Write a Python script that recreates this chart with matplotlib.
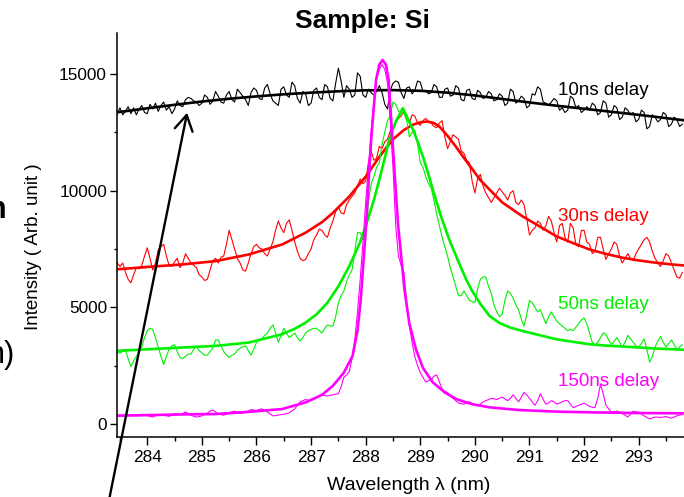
import numpy as np
import matplotlib
matplotlib.use("Agg")
import matplotlib.pyplot as plt
from matplotlib.patches import FancyArrowPatch, ArrowStyle
from matplotlib.ticker import MultipleLocator

plt.rcParams['font.family'] = ['Liberation Sans', 'DejaVu Sans']

# ---------------- data ----------------
# sampling grid of the measured spectra (nm), 283.40 ... 293.80 every 0.05 nm
wavelength = np.round(np.arange(283.40, 293.81, 0.05), 2)

raw_10ns = [
    13000, 13300, 13550, 13250, 13400, 13600, 13300, 13550, 13250, 13500, 13650, 13350,
    13300, 13700, 13500, 13750, 13400, 13650, 13800, 13450, 13600, 13300, 13500, 13850, 13650, 13600, 13900, 14000, 13950, 13850, 13800, 13650,
    13750, 14100, 14000, 13700, 13850, 14250, 14050, 13800, 13750, 14100, 14250, 13900, 13800, 14350, 14200, 14050, 13900, 13650, 14200, 14400,
    14300, 13950, 13900, 14400, 14550, 14150, 13850, 13750, 13650, 14350, 14450, 14100, 14000, 14650, 14500, 13950, 13750, 14250, 14150, 13650,
    13750, 14300, 14400, 14000, 13900, 14550, 14450, 13950, 13850, 14600, 15250, 14700, 14000, 14500, 14350, 14000, 14100, 15050, 14900, 14100,
    14000, 14350, 14200, 14100, 14250, 14500, 14200, 13700, 13500, 14300, 14600, 14700, 14650, 14200, 13950, 14400, 14450, 14150, 14300, 14700,
    14650, 14250, 14300, 14150, 14200, 14550, 14450, 14000, 14000, 14350, 14400, 14050, 14100, 14500, 14400, 13900, 13850, 14300, 14350, 13950,
    13900, 14300, 14200, 13950, 14000, 14250, 14150, 13850, 13900, 14150, 14050, 13650, 13750, 14350, 14250, 13750, 13850, 14050, 13950, 13550,
    13650, 14150, 14100, 14450, 14350, 13800, 13750, 13650, 13800, 13950, 13850, 13450, 13550, 13350, 13450, 14050, 13950, 13550, 13650, 13350,
    13450, 13600, 13450, 13750, 13650, 13250, 13350, 13850, 13750, 13150, 13250, 13650, 13550, 13050, 13150, 13550, 13450, 13250, 13350, 12950,
    13050, 13450, 13350, 12650, 12750, 13250, 13150, 12950, 13050, 13350, 13250, 12750, 12850, 13150, 13050, 12750, 12850]

raw_30ns = [
    7100, 6900, 6750, 6900, 6500, 6200, 6050, 6400, 6700, 6650, 6800, 7200,
    7550, 7100, 6600, 6900, 7450, 7600, 7700, 7200, 6800, 6750, 6950, 7100, 6700, 6900, 7300, 7100, 6900, 6800, 6700, 6400,
    6300, 6150, 6200, 6600, 7000, 7100, 6900, 7150, 7200, 7700, 8300, 7900, 7500, 7100, 6900, 6600, 6550, 6900, 7300, 7600,
    7700, 7550, 7500, 7300, 7200, 7500, 7800, 8300, 8700, 8400, 8200, 8600, 8750, 8300, 7800, 7400, 7100, 7000, 7050, 7300,
    7500, 7900, 8100, 8350, 8300, 8100, 8000, 8400, 8700, 9100, 9300, 9050, 9000, 9400, 9600, 9750, 9900, 10200, 10500, 10300,
    10400, 11200, 11700, 11300, 11400, 11900, 11800, 12100, 12200, 12550, 12700, 12900, 13100, 13200, 13400, 13100, 12900, 13250, 13200, 12900,
    12800, 13000, 13100, 12950, 12900, 12750, 12700, 12900, 13000, 12300, 11800, 12100, 12400, 12300, 12200, 11700, 11600, 11300, 11200, 10400,
    9900, 10500, 10700, 10200, 9900, 9700, 9500, 9700, 9900, 10100, 9950, 9800, 9600, 9900, 10000, 9500, 9400, 9600, 9400, 8800,
    8100, 8300, 8400, 8700, 8600, 8300, 8500, 8900, 8700, 8200, 7800, 8500, 8600, 8000, 7800, 8600, 8400, 7700, 7600, 8300,
    8300, 7800, 7700, 7300, 7400, 8000, 8000, 7500, 7050, 7300, 7500, 7800, 7700, 7200, 6900, 7100, 7300, 7100, 7000, 7300,
    7500, 7700, 7900, 8000, 7800, 7400, 7100, 6900, 6750, 7000, 7300, 7200, 6900, 6600, 6300, 6250, 6500]

raw_50ns = [
    3150, 3050, 3050, 3100, 3150, 2800, 2450, 2700, 2900, 3050, 3300, 3700,
    4000, 4100, 4050, 3700, 3300, 2900, 2550, 2900, 3200, 3350, 3400, 3100, 2850, 2800, 2900, 3000, 3000, 3200, 3300, 3150,
    3050, 2950, 2950, 3100, 3250, 3600, 3600, 3350, 3100, 2950, 2850, 2950, 3000, 3150, 3250, 3300, 3350, 3150, 2950, 3200,
    3500, 3600, 3650, 3800, 3900, 4100, 4250, 3900, 3500, 3800, 4100, 3900, 3700, 3800, 3900, 3700, 3550, 3700, 3900, 4000,
    4050, 4100, 4100, 4000, 3900, 4100, 4250, 4200, 4200, 4600, 5200, 5500, 5700, 6100, 6400, 6600, 7400, 8200, 8200, 7900,
    8000, 9500, 10300, 10600, 11000, 11200, 12000, 12500, 13000, 13200, 13800, 13700, 13400, 13350, 13300, 13000, 12300, 12500, 12600, 12000,
    11200, 11000, 10600, 10300, 10100, 9600, 9000, 8500, 8000, 7600, 7200, 6700, 6300, 5900, 5500, 5500, 5700, 5500, 5300, 5250,
    5200, 5800, 6200, 6300, 6300, 5900, 5600, 5100, 4800, 4600, 4700, 5300, 5700, 5600, 5400, 5100, 4900, 4500, 4200, 4700,
    5300, 5200, 5000, 4800, 4900, 4600, 4300, 4600, 4800, 4600, 4400, 4300, 4200, 4100, 4000, 4050, 4000, 4150, 4300, 4450,
    4550, 4300, 3900, 3500, 3350, 3500, 3700, 3900, 3850, 3600, 3400, 3550, 3700, 3500, 3300, 3500, 3800, 3650, 3500, 3350,
    3300, 3450, 3650, 3200, 2650, 2900, 3300, 3550, 3750, 3500, 3300, 3450, 3600, 3400, 3200, 3300, 3400]

raw_150ns = [
    350, 370, 380, 350, 330, 360, 400, 380, 350, 380, 420, 390,
    360, 330, 300, 350, 410, 390, 380, 350, 330, 380, 450, 430, 400, 450, 520, 450, 380, 330, 300, 320,
    350, 420, 470, 550, 600, 520, 430, 400, 380, 420, 480, 520, 550, 500, 450, 480, 500, 560, 620, 600,
    580, 620, 650, 580, 520, 430, 350, 360, 380, 400, 420, 450, 480, 560, 650, 800, 950, 1000, 1050, 1020,
    1000, 1080, 1150, 1200, 1250, 1220, 1200, 1230, 1250, 1280, 1300, 1600, 2000, 2100, 2250, 2800, 3600, 4800, 6200, 7800,
    9500, 11000, 12500, 13800, 14800, 15200, 15400, 15200, 14600, 13000, 11000, 8500, 7200, 6800, 6500, 5200, 4200, 3500, 2900, 2500,
    2200, 2000, 1800, 1850, 1900, 2050, 2100, 1800, 1500, 1400, 1350, 1200, 1100, 1000, 900, 870, 850, 900, 950, 880,
    800, 820, 850, 950, 1000, 1050, 1100, 1080, 1050, 1100, 1150, 1080, 1000, 1100, 1250, 1100, 950, 1150, 1350, 1250,
    1100, 950, 800, 1000, 1300, 1050, 850, 900, 1000, 950, 850, 900, 950, 1000, 1000, 850, 700, 750, 800, 850,
    900, 820, 750, 720, 700, 1100, 1700, 1300, 800, 650, 500, 520, 550, 500, 450, 380, 300, 420, 550, 520,
    500, 420, 350, 280, 220, 260, 300, 290, 280, 300, 320, 280, 250, 300, 350, 380, 420]

fit10_x = [283.42, 284.0, 284.5, 285.0, 285.5, 286.0, 286.5, 287.0, 287.5, 288.0, 288.5,
           289.0, 289.5, 290.0, 290.5, 291.0, 291.5, 292.0, 292.5, 293.0, 293.5, 293.85]
fit10_y = [13350, 13530, 13680, 13820, 13940, 14040, 14130, 14200, 14260, 14300, 14310,
           14280, 14200, 14080, 13930, 13780, 13640, 13510, 13380, 13250, 13110, 13010]

fit30_x = [283.42, 284.0, 284.64, 285.25, 285.86, 286.47, 286.9, 287.2, 287.4, 287.7,
           288.0, 288.25, 288.49, 288.7, 288.86, 289.0, 289.13, 289.25, 289.35, 289.5,
           289.65, 289.8, 289.96, 290.1, 290.27, 290.5, 290.87, 291.2, 291.49, 291.8,
           292.1, 292.4, 292.71, 293.0, 293.32, 293.6, 293.85]
fit30_y = [6625, 6730, 6838, 6980, 7266, 7693, 8200, 8650, 9050, 9750,
           10600, 11450, 12180, 12600, 12822, 12930, 12963, 12900, 12750, 12350,
           11895, 11400, 10900, 10450, 10044, 9500, 8903, 8450, 8048, 7750,
           7480, 7290, 7124, 7010, 6910, 6840, 6790]

fit50_x = [283.42, 284.0, 284.64, 285.25, 285.86, 286.47, 286.7, 286.9, 287.1, 287.3,
           287.5, 287.7, 287.9, 288.0, 288.15, 288.25, 288.35, 288.43, 288.55, 288.68,
           288.78, 288.86, 288.96, 289.06, 289.15, 289.23, 289.38, 289.53, 289.7, 289.84,
           289.95, 290.1, 290.27, 290.45, 290.65, 290.87, 291.2, 291.49, 291.8, 292.1,
           292.4, 292.71, 293.2, 293.85]
fit50_y = [3133, 3200, 3278, 3347, 3490, 3847, 4080, 4347, 4700, 5200,
           5900, 6766, 7800, 8475, 9600, 10471, 11400, 12180, 12950, 13535,
           13050, 12650, 12050, 11380, 10700, 10050, 8900, 7907, 6950, 6197,
           5700, 5150, 4629, 4330, 4130, 3989, 3800, 3633, 3520, 3419,
           3360, 3320, 3250, 3176]

fit150_x = [283.42, 284.0, 284.64, 285.25, 285.86, 286.47, 286.9, 287.2, 287.4, 287.6,
            287.76, 287.85, 287.91, 288.01, 288.10, 288.19, 288.25, 288.31, 288.37, 288.42,
            288.49, 288.59, 288.71, 288.8, 288.92, 289.05, 289.23, 289.45, 289.66, 289.95,
            290.27, 290.8, 291.5, 292.1, 293.0, 293.85]
fit150_y = [356, 380, 410, 427, 520, 641, 927, 1250, 1637, 2200,
            2919, 4000, 5343, 8620, 12180, 14745, 15400, 15600, 15400, 14745,
            12180, 8620, 5770, 4300, 3205, 2400, 1782, 1350, 1068, 850,
            714, 600, 530, 500, 470, 457]

labels = ["10ns delay", "30ns delay", "50ns delay", "150ns delay"]
label_x = [291.52, 291.52, 291.52, 291.52]
label_y = [14285, 8885, 5100, 1813]
colors = ["#000000", "#FF0000", "#00F000", "#FF00FF"]

# ---------------- figure ----------------
fig = plt.figure(figsize=(6.84, 4.97), dpi=100)
W, H = 684, 497
ax = fig.add_axes([116.7 / W, 1 - 437.3 / H, (W - 116.7) / W, (437.3 - 33) / H])

raws = [raw_10ns, raw_30ns, raw_50ns, raw_150ns]
fits = [(fit10_x, fit10_y), (fit30_x, fit30_y), (fit50_x, fit50_y), (fit150_x, fit150_y)]
for raw, (fx, fy), c in zip(raws, fits, colors):
    n = min(len(wavelength), len(raw))
    ax.plot(wavelength[:n], raw[:n], color=c, lw=0.8)
    ax.plot(fx, fy, color=c, lw=1.9)

for t, lx, ly, c in zip(labels, label_x, label_y, colors):
    ax.text(lx, ly, t, color=c, fontsize=13.5, ha='left', va='center')

ax.set_xlim(283.44, 293.83)
ax.set_ylim(-570, 16757)
ax.spines['top'].set_visible(False)
ax.spines['right'].set_visible(False)
for s in ['left', 'bottom']:
    ax.spines[s].set_linewidth(1.1)

ax.xaxis.set_major_locator(MultipleLocator(1))
ax.xaxis.set_minor_locator(MultipleLocator(0.5))
ax.yaxis.set_major_locator(MultipleLocator(5000))
ax.yaxis.set_minor_locator(MultipleLocator(2500))
ax.tick_params(axis='x', which='major', length=6, width=1, labelsize=12.4, pad=3)
ax.tick_params(axis='x', which='minor', length=3, width=1)
ax.tick_params(axis='y', which='major', length=5, width=1, labelsize=12.4, pad=2)
ax.tick_params(axis='y', which='minor', length=2.5, width=1)

fig.text(409 / W, 1 - 486 / H, "Wavelength λ (nm)", ha='center', va='center', fontsize=14)
fig.text(34 / W, 1 - 247 / H, "Intensity ( Arb. unit )", ha='center', va='center',
         rotation=90, fontsize=13.5)
fig.text(362 / W, 1 - 21 / H, "Sample: Si", ha='center', va='center',
         fontsize=19, fontweight='bold')

# cropped text fragments on the left edge (as in the reference)
fig.text(6 / W, 1 - 218 / H, "n", ha='right', va='baseline', fontsize=22, fontweight='bold')
fig.text(15 / W, 1 - 363 / H, "n)", ha='right', va='baseline', fontsize=22)

# arrow
arrow = FancyArrowPatch((106 / W, 1 - 515 / H), (187.7 / W, 1 - 110 / H),
                        transform=fig.transFigure,
                        arrowstyle=ArrowStyle('->', head_length=11, head_width=6.5),
                        mutation_scale=1, lw=1.7, color='black', clip_on=False)
fig.patches.append(arrow)

fig.savefig("out.png", dpi=100)
